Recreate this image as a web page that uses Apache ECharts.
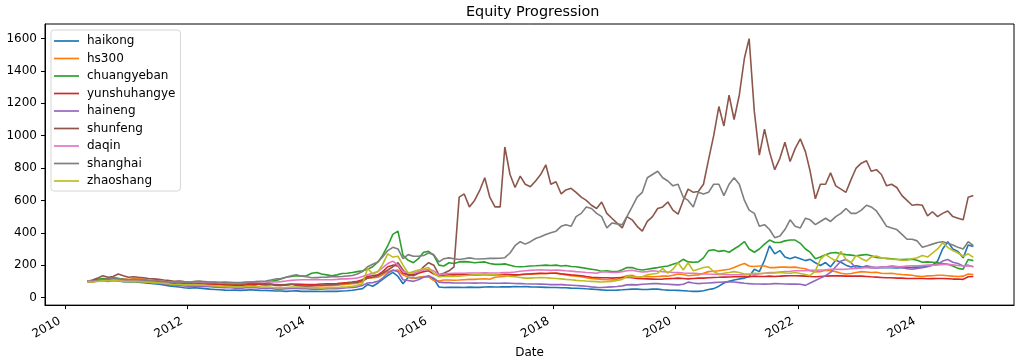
<!DOCTYPE html>
<html>
<head>
<meta charset="utf-8">
<script src="https://cdn.jsdelivr.net/npm/echarts@6/dist/echarts.min.js"></script>
<style>html,body{margin:0;padding:0;background:#fff;}#chart{width:1028px;height:364px;}</style>
</head>
<body>
<div id="chart"></div>
<script>
// Monthly sample dates (mid-month), May 2010 .. Nov 2024
const dates = [];
for (let y = 2010; y <= 2024; y++) {
  for (let m = 1; m <= 12; m++) {
    if (y === 2010 && m < 5) continue;
    if (y === 2024 && m > 11) continue;
    dates.push(y + '-' + String(m).padStart(2, '0') + '-15');
  }
}

const seriesNames = ['haikong','hs300','chuangyeban','yunshuhangye','haineng','shunfeng','daqin','shanghai','zhaoshang'];
const colors = ['#1f77b4','#ff7f0e','#2ca02c','#d62728','#9467bd','#8c564b','#e377c2','#7f7f7f','#bcbd22'];

const haikong = [
  100,98,102,105,100,105,102,98,
  96,98,95,92,88,85,82,78,72,68,65,60,
  58,60,58,55,52,50,48,46,45,46,44,46,
  48,46,44,43,42,40,40,38,40,41,38,38,
  38,38,37,38,38,38,40,42,45,50,55,80,
  70,90,112,135,155,130,85,125,120,122,128,128,
  115,65,62,63,63,63,62,64,63,63,65,66,
  65,66,67,66,68,67,68,66,65,64,63,62,
  62,60,60,58,57,56,54,52,50,47,45,45,
  46,48,50,52,52,50,50,52,52,48,46,45,
  44,42,40,38,38,42,50,55,70,90,100,108,
  115,120,130,175,160,230,320,270,290,250,240,250,
  240,228,236,215,198,216,190,230,218,200,188,196,
  190,188,185,183,186,184,185,182,184,185,186,188,
  188,195,200,225,300,345,300,285,245,325,315
];
const hs300 = [
  100,98,105,108,112,125,118,115,
  112,115,116,114,108,106,104,98,92,90,92,85,
  85,90,88,90,90,86,82,80,80,78,75,85,
  92,90,85,82,86,76,74,78,82,82,82,78,
  75,73,72,74,73,74,80,82,85,88,98,120,
  122,125,140,160,165,170,140,125,120,125,130,128,
  105,102,108,108,107,108,110,112,112,114,116,113,
  125,128,130,135,138,140,142,145,146,148,148,150,
  152,145,140,135,132,128,122,118,115,112,110,108,
  112,125,135,138,125,128,130,128,130,132,132,138,
  145,142,135,138,140,150,160,162,165,170,175,185,
  200,210,195,192,195,195,185,185,188,188,186,188,
  182,178,165,158,160,168,165,160,150,145,148,155,
  160,158,155,156,150,148,150,145,142,140,138,132,
  130,134,135,138,138,135,132,130,132,145,142
];
const chuangyeban = [
  100,105,112,118,115,120,118,112,
  108,110,105,100,95,90,92,88,84,80,82,75,
  72,75,74,72,75,70,66,64,65,68,62,68,
  72,78,85,88,100,105,115,125,130,135,132,135,
  150,155,145,140,135,140,148,150,155,160,165,175,
  190,220,260,320,390,410,260,230,215,240,280,285,
  260,200,195,215,210,220,222,220,215,218,220,210,
  205,205,208,200,192,190,192,195,196,198,200,198,
  200,195,198,192,190,185,180,175,170,162,165,160,
  160,172,185,185,175,170,175,180,185,190,195,205,
  215,236,220,218,220,245,290,295,285,290,280,300,
  320,345,300,280,300,330,355,340,340,350,355,355,
  335,300,280,240,250,265,275,278,270,265,262,258,
  262,266,258,248,244,242,240,236,234,236,236,230,
  218,220,218,214,210,205,195,180,175,235,228
];
const yunshuhangye = [
  100,100,106,110,112,118,112,110,
  108,110,108,106,102,100,98,94,90,86,88,84,
  84,86,85,84,83,82,80,78,77,76,75,78,
  82,84,80,78,80,74,74,78,82,82,80,80,
  80,82,84,85,85,86,90,92,95,100,110,130,
  135,140,160,190,200,195,150,140,140,150,160,165,
  145,135,138,140,140,142,140,140,138,140,142,140,
  140,142,144,142,140,142,145,146,148,150,148,150,
  150,146,144,140,138,135,130,125,124,122,122,120,
  122,124,125,122,118,116,115,114,113,114,116,118,
  120,118,115,118,120,120,122,124,125,126,127,128,
  128,130,128,132,130,130,132,130,132,134,135,135,
  134,132,130,128,130,132,134,135,134,132,132,133,
  132,130,128,126,124,122,122,120,120,118,118,118,
  118,116,117,118,118,116,114,114,112,128,130
];
const haineng = [
  100,100,106,110,112,120,115,110,
  106,108,104,100,96,92,88,84,80,75,76,72,
  70,72,70,68,67,64,62,60,60,58,56,60,
  62,60,58,56,56,52,52,54,56,56,55,54,
  52,53,52,54,54,55,58,60,62,66,75,90,
  92,100,120,150,170,160,110,105,100,110,125,135,
  120,95,92,92,90,90,90,90,89,90,90,88,
  88,88,89,88,87,86,85,84,84,83,82,80,
  80,80,78,76,74,72,70,66,63,62,64,66,
  68,72,78,80,78,82,84,86,86,84,82,80,
  78,82,95,90,86,88,90,92,94,96,98,96,
  92,88,86,84,84,83,84,86,85,84,83,83,
  82,75,90,105,120,135,155,190,225,235,215,180,
  185,196,190,185,188,190,195,192,185,178,175,180,
  185,190,200,205,225,235,218,210,195,200,190
];
const shunfeng = [
  100,108,120,135,125,130,145,135,
  125,128,125,122,118,115,112,108,105,100,102,98,
  95,98,100,96,94,92,90,88,86,85,84,88,
  90,88,85,84,82,80,78,80,82,75,72,70,
  72,74,76,78,80,82,85,88,92,95,105,120,
  125,135,150,170,190,215,170,140,135,150,190,215,
  200,140,150,165,190,620,640,560,600,660,740,620,
  560,560,930,760,680,750,700,685,720,760,820,700,
  715,640,665,675,650,620,600,570,550,590,520,490,
  460,430,500,480,440,410,470,500,550,560,590,540,
  515,600,670,650,655,700,850,1000,1180,1060,1250,1100,
  1250,1480,1600,1150,880,1040,900,790,860,960,840,920,
  980,900,780,610,700,700,770,690,670,650,730,800,
  830,845,780,790,760,690,700,680,630,600,570,575,
  570,505,530,500,520,535,500,490,480,620,630
];
const daqin = [
  100,100,104,108,106,110,108,105,
  104,106,105,104,102,100,98,96,95,94,96,94,
  95,97,96,95,94,93,92,92,90,90,90,92,
  96,98,96,96,98,96,98,102,106,108,110,110,
  110,112,110,110,110,112,115,115,118,120,130,140,
  150,160,185,210,225,200,160,155,150,160,170,175,
  165,140,145,148,150,150,150,152,152,152,153,152,
  152,153,155,155,158,162,165,168,170,172,170,168,
  170,168,165,163,160,158,155,153,150,160,158,155,
  155,160,165,168,162,158,160,165,162,160,158,155,
  155,152,150,150,148,146,145,144,143,142,141,141,
  141,141,142,143,145,150,155,155,158,160,162,165,
  165,166,168,168,170,172,175,175,174,175,178,180,
  182,184,185,185,186,188,188,190,192,194,196,196,
  198,200,200,202,205,205,202,198,195,196,190
];
const shanghai = [
  100,98,105,110,112,120,118,112,
  110,112,110,108,105,102,100,98,96,95,98,95,
  95,98,100,98,96,95,94,95,94,93,92,95,
  96,98,100,102,108,115,118,125,135,140,132,128,
  122,124,125,126,128,128,130,133,136,145,160,190,
  205,220,250,290,310,300,240,265,255,255,260,275,
  265,220,240,245,240,235,240,245,240,238,240,242,
  242,243,246,275,320,345,330,345,365,375,390,400,
  410,440,450,440,500,520,560,550,520,500,430,460,
  455,450,500,560,620,650,740,760,780,740,720,690,
  700,620,600,560,650,640,650,700,700,630,700,740,
  700,600,540,520,440,450,420,370,380,420,480,440,
  430,490,480,450,470,490,470,500,520,550,520,520,
  540,570,560,535,490,440,430,420,390,360,360,350,
  310,320,330,340,345,335,325,310,300,345,320
];
const zhaoshang = [
  100,96,100,104,102,106,104,100,
  98,100,98,96,94,92,90,88,84,80,82,78,
  78,80,78,76,74,72,70,68,66,66,64,68,
  70,68,66,64,64,60,60,62,64,64,62,62,
  60,60,58,60,60,62,64,66,70,75,85,180,
  145,160,205,270,250,255,200,150,160,170,178,185,
  150,128,130,132,130,132,135,138,140,140,142,140,
  140,138,135,130,128,124,120,120,122,124,122,120,
  118,115,112,110,106,104,102,100,98,96,98,100,
  105,112,130,128,125,128,140,145,150,180,150,175,
  215,170,215,165,175,185,190,160,145,150,155,160,
  155,145,145,150,148,150,150,152,155,152,150,155,
  148,142,135,165,236,265,245,226,285,236,216,260,
  240,226,250,257,246,240,236,236,230,230,240,246,
  260,250,275,300,338,310,290,275,255,270,248
];

const yTickValues = [0,200,400,600,800,1000,1200,1400,1600];
const xTickYears = ['2010-01-01','2012-01-01','2014-01-01','2016-01-01','2018-01-01','2020-01-01','2022-01-01','2024-01-01'];

const allValues = [haikong,hs300,chuangyeban,yunshuhangye,haineng,shunfeng,daqin,shanghai,zhaoshang];
const FONT = 'DejaVu Sans';
const parse = s => echarts.time.parse(s).getTime();
const xTicks = xTickYears.map(parse);
const xTimes = dates.map(parse);

const chart = echarts.init(document.getElementById('chart'), null, {renderer: 'canvas'});
chart.setOption({
  animation: false,
  backgroundColor: '#fff',
  color: colors,
  title: {
    text: 'Equity Progression', left: 466, top: 5, padding: 0,
    textStyle: {fontFamily: FONT, fontSize: 14.4, fontWeight: 'normal', color: '#000'}
  },
  grid: {left: 45, top: 24, width: 969, height: 284, show: true, borderColor: '#000', borderWidth: 1, backgroundColor: 'transparent'},
  legend: {
    orient: 'vertical', left: 51, top: 30, z: 10,
    icon: 'rect',
    padding: [4, 5, 3, 3], itemWidth: 25, itemHeight: 1.7, itemGap: 3.5,
    borderColor: '#d6d6d6', borderWidth: 1, borderRadius: 3,
    backgroundColor: 'rgba(255,255,255,0.8)',
    textStyle: {fontFamily: FONT, fontSize: 12, color: '#000', lineHeight: 14, padding: [0, 0, 0, 3]},
    data: seriesNames
  },
  xAxis: {
    type: 'value',
    min: parse('2009-09-03'), max: parse('2025-07-16'),
    axisLine: {show: true, onZero: false, lineStyle: {color: '#000', width: 1}},
    axisTick: {show: true, length: 4, lineStyle: {color: '#000'}, customValues: xTicks},
    axisLabel: {
      customValues: xTicks, rotate: 30, margin: 12, padding: [0, 6, 0, 0],
      fontFamily: FONT, fontSize: 12, color: '#000',
      formatter: v => String(new Date(v).getFullYear())
    },
    splitLine: {show: false},
    name: 'Date', nameLocation: 'middle', nameGap: 36,
    nameTextStyle: {fontFamily: FONT, fontSize: 12, color: '#000'}
  },
  yAxis: {
    type: 'value', min: -47, max: 1690,
    axisLine: {show: true, onZero: false, lineStyle: {color: '#000', width: 1}},
    axisTick: {show: true, length: 4, lineStyle: {color: '#000'}, customValues: yTickValues},
    axisLabel: {customValues: yTickValues, margin: 8, fontFamily: FONT, fontSize: 12, color: '#000',
      formatter: v => String(v)},
    splitLine: {show: false}
  },
  series: seriesNames.map((name, k) => ({
    name: name,
    type: 'line',
    symbol: 'none',
    showSymbol: false,
    lineStyle: {width: 1.6, color: colors[k]},
    itemStyle: {color: colors[k]},
    emphasis: {disabled: true},
    data: xTimes.map((t, i) => [t, allValues[k][i]])
  }))
});
</script>
</body>
</html>
